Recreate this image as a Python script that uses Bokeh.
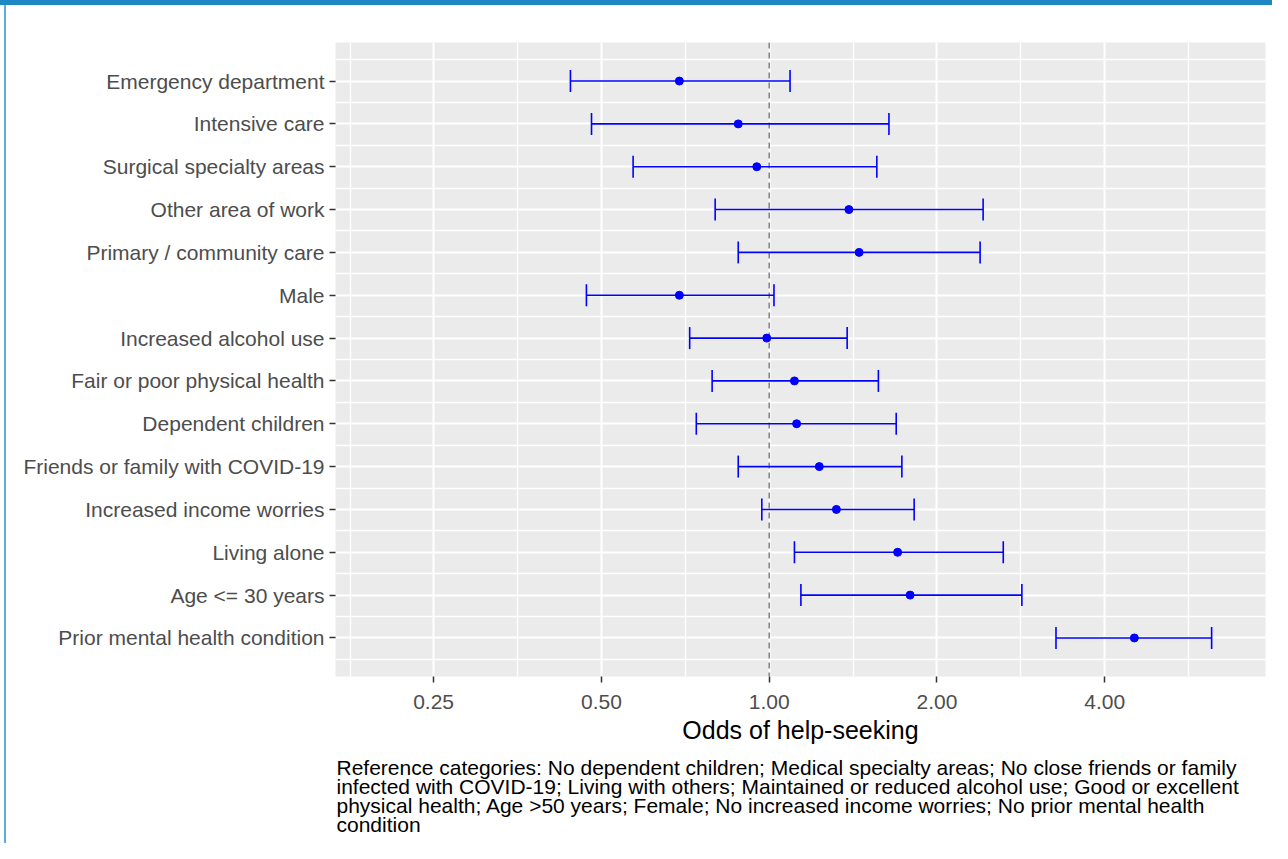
from bokeh.plotting import figure
from bokeh.models import (ColumnDataSource, Whisker, TeeHead, Span, FixedTicker,
                          CustomJSTickFormatter, Range1d, Title)
from bokeh.embed import file_html
from bokeh.resources import INLINE

categories = [
    "Emergency department",
    "Intensive care",
    "Surgical specialty areas",
    "Other area of work",
    "Primary / community care",
    "Male",
    "Increased alcohol use",
    "Fair or poor physical health",
    "Dependent children",
    "Friends or family with COVID-19",
    "Increased income worries",
    "Living alone",
    "Age <= 30 years",
    "Prior mental health condition",
]
odds = [0.69, 0.88, 0.95, 1.39, 1.45, 0.69, 0.99, 1.11, 1.12, 1.23, 1.32, 1.70, 1.79, 4.52]
lower = [0.44, 0.48, 0.57, 0.80, 0.88, 0.47, 0.72, 0.79, 0.74, 0.88, 0.97, 1.11, 1.14, 3.27]
upper = [1.09, 1.64, 1.56, 2.42, 2.39, 1.02, 1.38, 1.57, 1.69, 1.73, 1.82, 2.63, 2.84, 6.22]

x_ticks = [0.25, 0.5, 1.0, 2.0, 4.0]
x_minor_ticks = [0.177, 0.354, 0.707, 1.414, 2.828, 5.657]
x_title = "Odds of help-seeking"
caption = ("Reference categories: No dependent children; Medical specialty areas; No close friends or family\n"
           "infected with COVID-19; Living with others; Maintained or reduced alcohol use; Good or excellent\n"
           "physical health; Age >50 years; Female; No increased income worries; No prior mental health\n"
           "condition")

FONT = "Liberation Sans"
n = len(categories)
ypos = [n - i for i in range(n)]
src = ColumnDataSource(dict(cat=categories, y=ypos, odds=odds, lower=lower, upper=upper))

p = figure(width=1272, height=843, x_axis_type="log",
           x_range=Range1d(0.1667, 7.77), y_range=Range1d(0.1, n + 0.9),
           output_backend="svg", toolbar_location=None,
           min_border_left=335, min_border_right=7, min_border_top=42, min_border_bottom=163)

p.background_fill_color = "#EBEBEB"
p.border_fill_color = None
p.outline_line_color = None
p.styles = {
    "background": ("linear-gradient(#1E88C5, #1E88C5) 0px 0px / 100% 5px no-repeat, "
                   "linear-gradient(#5AAEDC, #5AAEDC) 4px 0px / 2px 100% no-repeat, white"),
}

p.xaxis.ticker = FixedTicker(ticks=x_ticks, minor_ticks=x_minor_ticks)
p.yaxis.ticker = FixedTicker(ticks=list(range(1, n + 1)), minor_ticks=[i + 0.5 for i in range(0, n + 1)])
p.xaxis.formatter = CustomJSTickFormatter(code="return tick.toFixed(2);")
p.yaxis.formatter = CustomJSTickFormatter(args=dict(names=categories, n=n),
    code="const i = n - Math.round(tick); return (i >= 0 && i < n) ? names[i] : '';")

for ax in (p.xaxis, p.yaxis):
    ax.axis_line_color = None
    ax.major_tick_line_color = "#333333"
    ax.major_tick_line_width = 1.5
    ax.major_tick_out = 6
    ax.major_tick_in = 0
    ax.minor_tick_line_color = None
    ax.major_label_text_font = FONT
    ax.major_label_text_font_size = "21px"
    ax.major_label_text_color = "#4D4D4D"

p.yaxis.major_label_standoff = 5
p.xaxis.major_label_standoff = 12
p.xaxis.axis_label = x_title
p.xaxis.axis_label_text_font = FONT
p.xaxis.axis_label_text_font_size = "25px"
p.xaxis.axis_label_text_font_style = "normal"
p.xaxis.axis_label_text_color = "black"
p.xaxis.axis_label_standoff = 4

for g in (p.xgrid, p.ygrid):
    g.grid_line_color = "white"
    g.grid_line_width = 2
    g.minor_grid_line_color = "white"
    g.minor_grid_line_width = 1.3

vline = Span(location=1.0, dimension="height", line_color="#7F7F7F",
             line_dash="6 4", line_width=1.5, level="underlay")
p.add_layout(vline)

whisk = Whisker(source=src, base="y", lower="lower", upper="upper", dimension="width",
                line_color="#0000FF", line_width=1.6, level="glyph",
                upper_head=TeeHead(size=22, line_color="#0000FF", line_width=1.6),
                lower_head=TeeHead(size=22, line_color="#0000FF", line_width=1.6))
p.add_layout(whisk)

p.scatter("odds", "y", source=src, size=8, color="#0000FF")

cap = Title(text=caption, align="left", text_font=FONT, text_font_size="21px",
            text_font_style="normal", text_color="black", text_line_height=0.84,
            standoff=14, offset=1)
p.add_layout(cap, "below")

open("out.html", "w").write(file_html(p, INLINE))
